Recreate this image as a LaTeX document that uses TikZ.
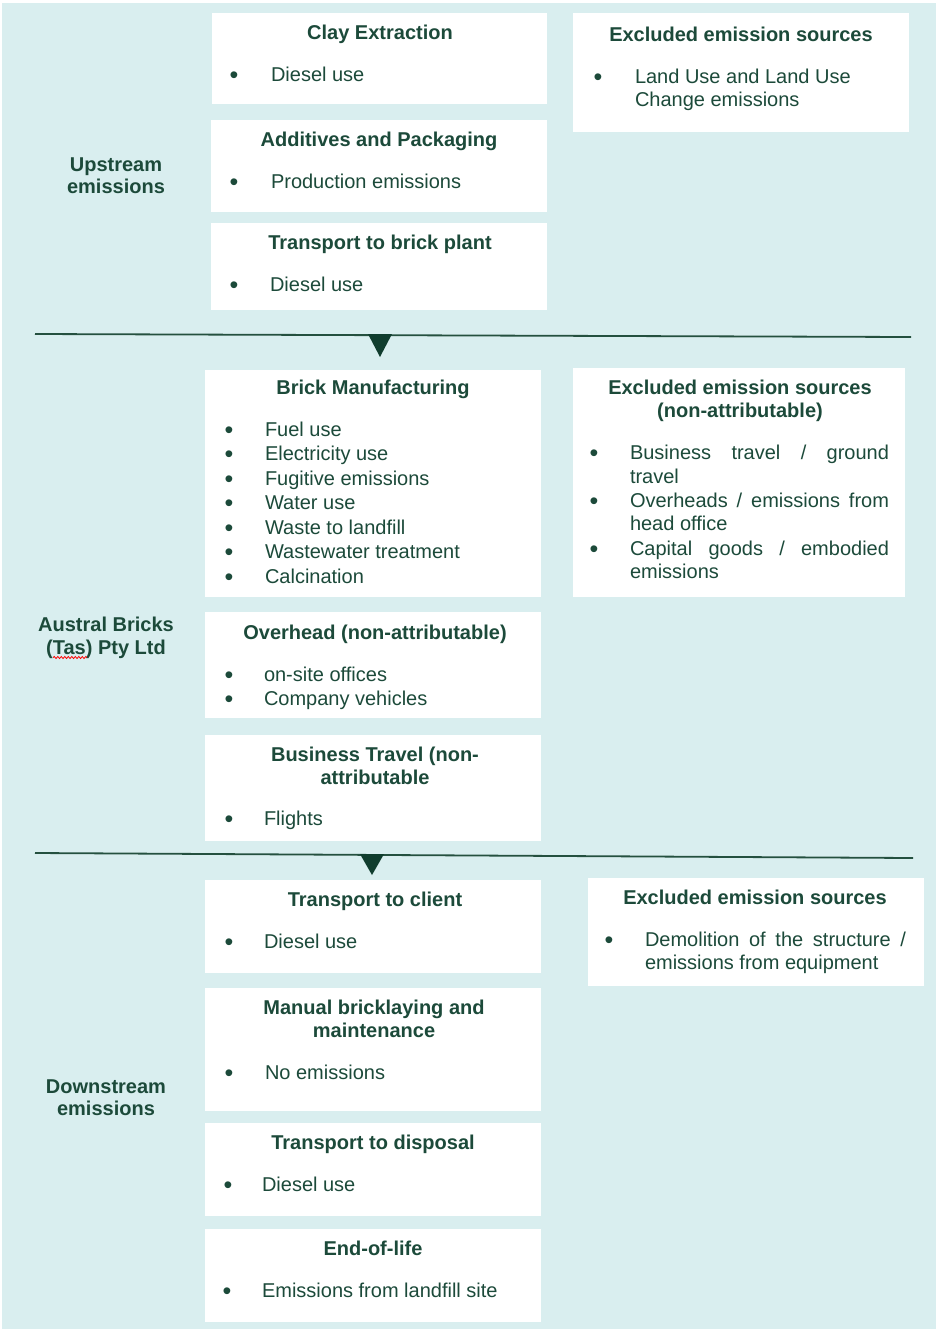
\documentclass[tikz,border=0pt]{standalone}
\usepackage{fontspec}
\setmainfont{Liberation Sans}
\usetikzlibrary{decorations.pathmorphing}
\definecolor{bgteal}{HTML}{D9EEEF}
\definecolor{tgreen}{HTML}{1C4A3A}
\definecolor{lgreen}{HTML}{24503F}
\definecolor{trigreen}{HTML}{103D2E}
\newcommand{\blt}{\raisebox{-2pt}{\fontsize{25}{24}\selectfont\textbullet}}
\begin{document}
\begin{tikzpicture}[x=1pt,y=-1pt,
  every node/.style={inner sep=0pt,outer sep=0pt,text=tgreen,font=\fontsize{20}{24}\selectfont},
  box/.style={fill=white,draw=none,minimum width=#1},
  ttl/.style={anchor=base,font=\fontsize{20}{24}\selectfont\bfseries},
  lbl/.style={anchor=base,font=\fontsize{20}{24}\selectfont\bfseries},
  bul/.style={anchor=base},
  itm/.style={anchor=base west},
  rule/.style={draw=lgreen,line width=1.8pt},
  tri/.style={fill=trigreen},
  squiggle/.style={draw=red,line width=0.8pt,decorate,decoration={snake,amplitude=1pt,segment length=3.5pt}}]
\useasboundingbox (0,0) rectangle (938,1331);
\fill[bgteal] (2,3) rectangle (936,1329);

% ---------- Upstream ----------
\node[box=335pt,minimum height=91pt]  (clay) at (379.5,58.5) {};
\node[box=336pt,minimum height=92pt]  (add)  at (379,166) {};
\node[box=336pt,minimum height=87pt]  (tbp)  at (379,266.5) {};
\node[box=336pt,minimum height=119pt] (ex1)  at (741,72.5) {};

\node[ttl] (clayT) at (380,39) {Clay Extraction};
\node[bul] (clayB1) at (234,81) {\blt};
\node[itm] (clayI1) at (271,81) {Diesel use};

\node[ttl] (addT) at (379,146) {Additives and Packaging};
\node[bul] (addB1) at (234,188) {\blt};
\node[itm] (addI1) at (271,188) {Production emissions};

\node[ttl] (tbpT) at (380,249) {Transport to brick plant};
\node[bul] (tbpB1) at (234,291) {\blt};
\node[itm] (tbpI1) at (270,291) {Diesel use};

\node[ttl] (ex1T) at (741,41) {Excluded emission sources};
\node[bul] (ex1B1) at (598,83) {\blt};
\node[itm] (ex1I1) at (635,83) {Land Use and Land Use};
\node[itm] (ex1I2) at (635,106) {Change emissions};

\node[lbl] (up1) at (116,171) {Upstream};
\node[lbl] (up2) at (116,193) {emissions};

% ---------- rule 1 ----------
\coordinate (r1a) at (35,334);
\coordinate (r1b) at (911,337);
\draw[rule] (r1a) -- (r1b);
\fill[tri] (368,334) -- (392,334) -- (380,357) -- cycle;

% ---------- Austral Bricks ----------
\node[box=336pt,minimum height=227pt] (brick) at (373,483.5) {};
\node[box=336pt,minimum height=106pt] (ovh)   at (373,665) {};
\node[box=336pt,minimum height=106pt] (bt)    at (373,788) {};
\node[box=332pt,minimum height=229pt] (ex2)   at (739,482.5) {};

\node[ttl] (brickT) at (373,394) {Brick Manufacturing};
\foreach \t [count=\i] in {Fuel use,Electricity use,Fugitive emissions,Water use,Waste to landfill,Wastewater treatment,Calcination}{
  \node[bul] (brickB\i) at (229,{436+24.5*(\i-1)}) {\blt};
  \node[itm] (brickI\i) at (265,{436+24.5*(\i-1)}) {\t};
}

\node[ttl] (ovhT) at (375,639) {Overhead (non-attributable)};
\node[bul] (ovhB1) at (229,681) {\blt};
\node[itm] (ovhI1) at (264,681) {on-site offices};
\node[bul] (ovhB2) at (229,705) {\blt};
\node[itm] (ovhI2) at (264,705) {Company vehicles};

\node[ttl] (btT1) at (375,761) {Business Travel (non-};
\node[ttl] (btT2) at (375,784) {attributable};
\node[bul] (btB1) at (229,825) {\blt};
\node[itm] (btI1) at (264,825) {Flights};

\node[ttl] (ex2T1) at (740,394) {Excluded emission sources};
\node[ttl] (ex2T2) at (740,417) {(non-attributable)};
\node[bul] (ex2B1) at (594,459) {\blt};
\node[itm] (ex2I1) at (630,459) {\makebox[259pt][s]{Business travel / ground}};
\node[itm] (ex2I1b) at (630,483) {travel};
\node[bul] (ex2B2) at (594,507) {\blt};
\node[itm] (ex2I2) at (630,507) {\makebox[259pt][s]{Overheads / emissions from}};
\node[itm] (ex2I2b) at (630,530) {head office};
\node[bul] (ex2B3) at (594,555) {\blt};
\node[itm] (ex2I3) at (630,555) {\makebox[259pt][s]{Capital goods / embodied}};
\node[itm] (ex2I3b) at (630,578) {emissions};

\node[lbl] (ab1) at (106,631) {Austral Bricks};
\node[lbl] (ab2) at (106,654) {(Tas) Pty Ltd};
\coordinate (sqa) at ([xshift=7pt,yshift=-3.5pt]ab2.base west);
\coordinate (sqb) at ([xshift=41pt,yshift=-3.5pt]ab2.base west);
\draw[squiggle] (sqa) -- (sqb);

% ---------- rule 2 ----------
\coordinate (r2a) at (35,853);
\coordinate (r2b) at (913,858);
\draw[rule] (r2a) -- (r2b);
\fill[tri] (360,854) -- (384,854) -- (372,875) -- cycle;

% ---------- Downstream ----------
\node[box=336pt,minimum height=93pt]  (tc)  at (373,926.5) {};
\node[box=336pt,minimum height=123pt] (mb)  at (373,1049.5) {};
\node[box=336pt,minimum height=93pt]  (td)  at (373,1169.5) {};
\node[box=336pt,minimum height=93pt]  (eol) at (373,1275.5) {};
\node[box=336pt,minimum height=108pt] (ex3) at (756,932) {};

\node[ttl] (tcT) at (375,906) {Transport to client};
\node[bul] (tcB1) at (229,948) {\blt};
\node[itm] (tcI1) at (264,948) {Diesel use};

\node[ttl] (mbT1) at (374,1014) {Manual bricklaying and};
\node[ttl] (mbT2) at (374,1037) {maintenance};
\node[bul] (mbB1) at (229,1079) {\blt};
\node[itm] (mbI1) at (265,1079) {No emissions};

\node[ttl] (tdT) at (373,1149) {Transport to disposal};
\node[bul] (tdB1) at (228,1191) {\blt};
\node[itm] (tdI1) at (262,1191) {Diesel use};

\node[ttl] (eolT) at (373,1255) {End-of-life};
\node[bul] (eolB1) at (227,1297) {\blt};
\node[itm] (eolI1) at (262,1297) {Emissions from landfill site};

\node[ttl] (ex3T) at (755,904) {Excluded emission sources};
\node[bul] (ex3B1) at (609,946) {\blt};
\node[itm] (ex3I1) at (645,946) {\makebox[261pt][s]{Demolition of the structure /}};
\node[itm] (ex3I1b) at (645,969) {emissions from equipment};

\node[lbl] (ds1) at (106,1093) {Downstream};
\node[lbl] (ds2) at (106,1115) {emissions};
\end{tikzpicture}
\end{document}
